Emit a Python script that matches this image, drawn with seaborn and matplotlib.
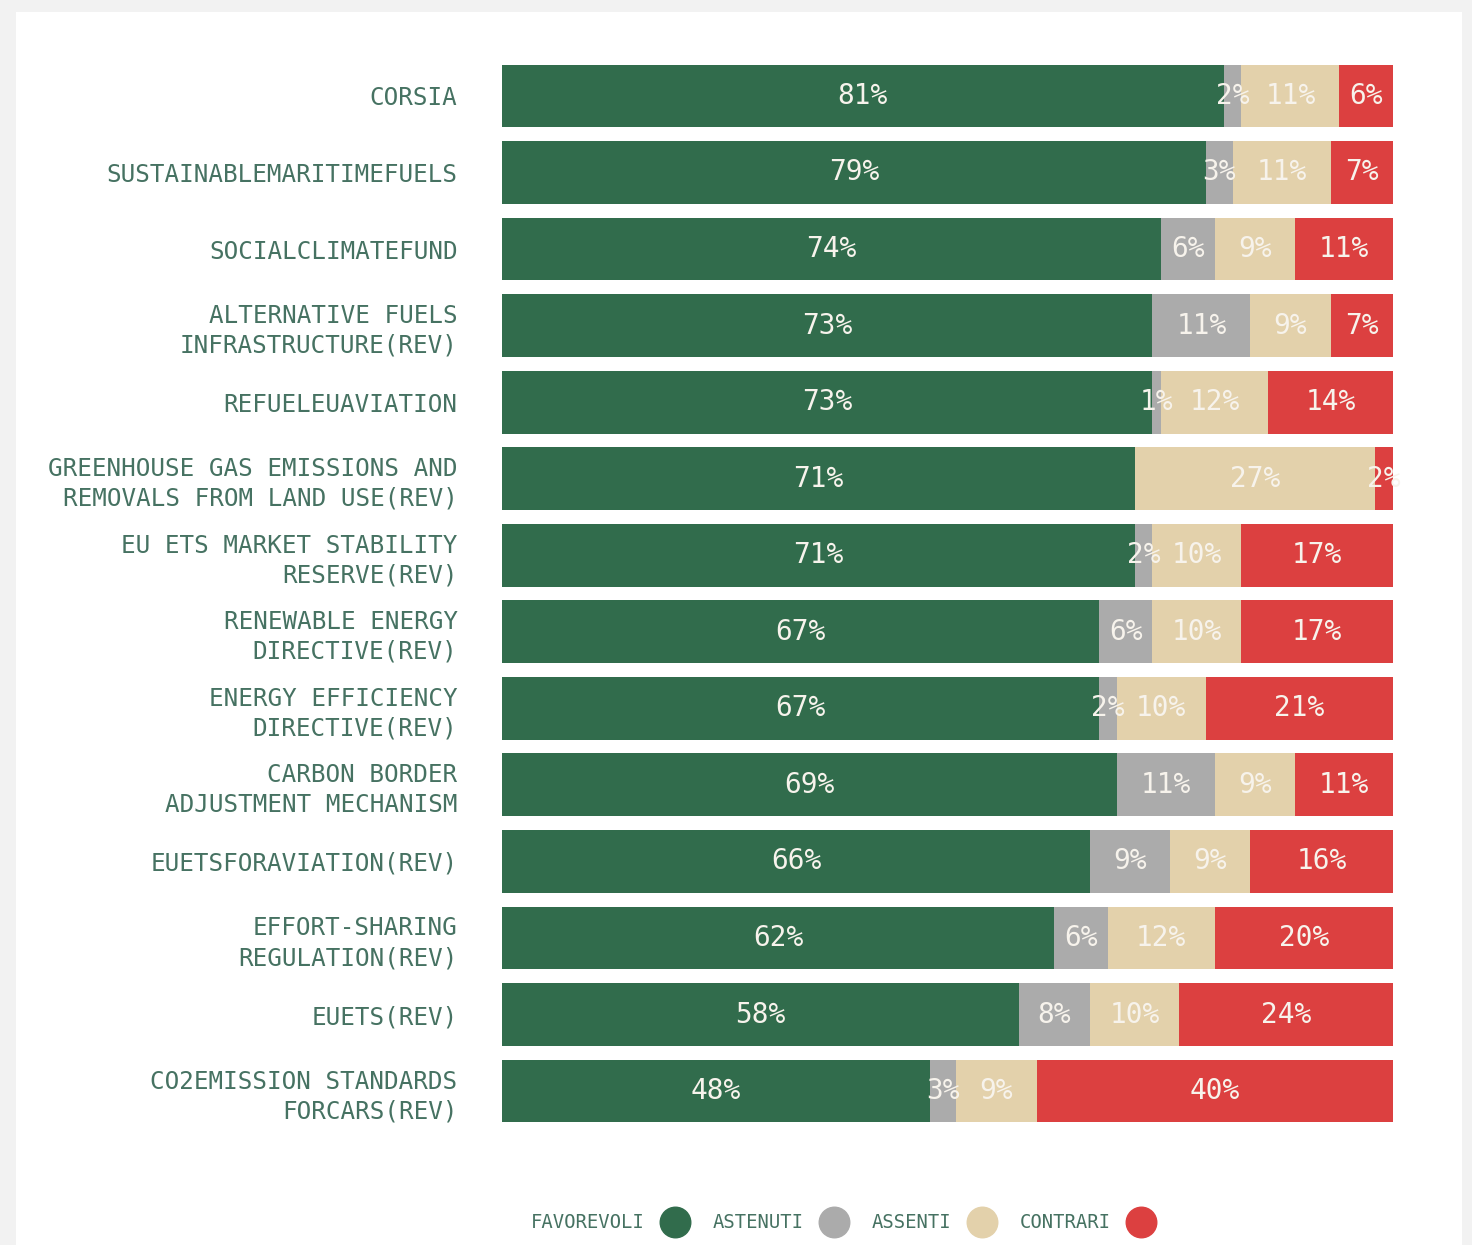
import pandas as pd
import seaborn as sns
import matplotlib.pyplot as plt
from matplotlib.lines import Line2D
from matplotlib.patches import Rectangle

# Data (percentages per vote outcome)
laws = [
    "CORSIA",
    "SUSTAINABLEMARITIMEFUELS",
    "SOCIALCLIMATEFUND",
    "ALTERNATIVE FUELS\nINFRASTRUCTURE(REV)",
    "REFUELEUAVIATION",
    "GREENHOUSE GAS EMISSIONS AND\nREMOVALS FROM LAND USE(REV)",
    "EU ETS MARKET STABILITY\nRESERVE(REV)",
    "RENEWABLE ENERGY\nDIRECTIVE(REV)",
    "ENERGY EFFICIENCY\nDIRECTIVE(REV)",
    "CARBON BORDER\nADJUSTMENT MECHANISM",
    "EUETSFORAVIATION(REV)",
    "EFFORT-SHARING\nREGULATION(REV)",
    "EUETS(REV)",
    "CO2EMISSION STANDARDS\nFORCARS(REV)",
]
favorevoli = [81, 79, 74, 73, 73, 71, 71, 67, 67, 69, 66, 62, 58, 48]
astenuti = [2, 3, 6, 11, 1, 0, 2, 6, 2, 11, 9, 6, 8, 3]
assenti = [11, 11, 9, 9, 12, 27, 10, 10, 10, 9, 9, 12, 10, 9]
contrari = [6, 7, 11, 7, 14, 2, 17, 17, 21, 11, 16, 20, 24, 40]

series_names = ["FAVOREVOLI", "ASTENUTI", "ASSENTI", "CONTRARI"]
colors = ["#316c4c", "#ababab", "#e3d1ab", "#dc4040"]
text_color = "#467262"

df = pd.DataFrame({
    "law": laws,
    "FAVOREVOLI": favorevoli,
    "ASTENUTI": astenuti,
    "ASSENTI": assenti,
    "CONTRARI": contrari,
})
# cumulative sums for stacking
cum = df[series_names].cumsum(axis=1)
for name in series_names:
    df["cum_" + name] = cum[name]

sns.set_theme(style="white")
plt.rcParams["font.family"] = ["DejaVu Sans Mono", "DejaVu Sans"]

fig = plt.figure(figsize=(14.72, 12.45), dpi=100)
fig.patch.set_facecolor("#f2f2f2")
# white card behind the chart
fig.patches.append(Rectangle((16 / 1472, 0), (1462 - 16) / 1472, 1 - 12 / 1245,
                             transform=fig.transFigure, facecolor="white",
                             edgecolor="none", zorder=-10))

ax = fig.add_axes([0.341, 0.0929, 0.6053, 0.8608])
ax.set_facecolor("none")

# draw from the largest cumulative to the smallest so each overlaps the previous
for name, color in reversed(list(zip(series_names, colors))):
    sns.barplot(data=df, y="law", x="cum_" + name, color=color, saturation=1,
                width=0.82, errorbar=None, ax=ax, linewidth=0)

# value labels in the middle of each segment
for i, row in df.iterrows():
    start = 0
    for name in series_names:
        v = row[name]
        if v > 0:
            ax.text(start + v / 2, i, f"{v}%", ha="center", va="center",
                    color="#f7f3ec", fontsize=20)
        start += v

ax.set_xlim(0, 100)
ax.set_ylim(len(laws) - 0.5, -0.5)
ax.set_xlabel("")
ax.set_ylabel("")
ax.set_xticks([])
ax.tick_params(axis="y", length=0, pad=32, labelsize=17.5, labelcolor=text_color)
for t in ax.get_yticklabels():
    t.set_linespacing(1.3)
for s in ax.spines.values():
    s.set_visible(False)

handles = [Line2D([], [], linestyle="none", marker="o", markersize=22,
                  markerfacecolor=c, markeredgecolor=c) for c in colors]
leg = fig.legend(handles, series_names, loc="center", bbox_to_anchor=(0.573, 0.0177),
                 ncol=4, frameon=False, markerfirst=False, fontsize=13.6,
                 handletextpad=0.8, columnspacing=1.2, handlelength=1.6)
for t in leg.get_texts():
    t.set_color(text_color)

plt.savefig("out.png", dpi=100, facecolor=fig.get_facecolor())
